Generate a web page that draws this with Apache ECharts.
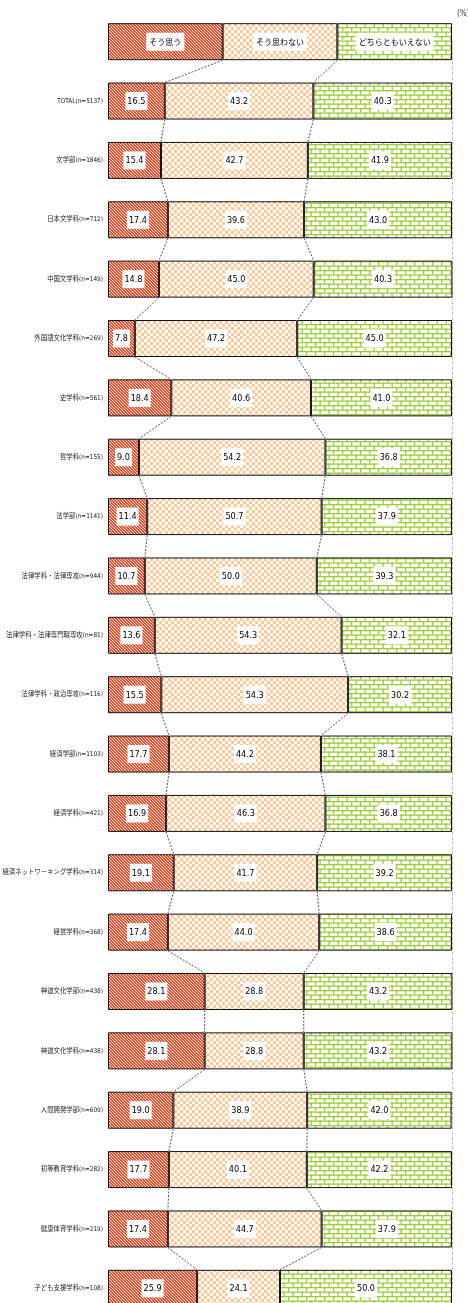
<!DOCTYPE html>
<html><head><meta charset="utf-8">
<script src="https://cdn.jsdelivr.net/npm/echarts@6/dist/echarts.min.js"></script>
<style>html,body{margin:0;padding:0;background:#fff}#c{width:468px;height:1303px}</style>
</head><body><div id="c"></div>
<script>
const categories = ['TOTAL(n=5137)', '文学部(n=1846)', '日本文学科(n=712)', '中国文学科(n=149)', '外国語文化学科(n=269)', '史学科(n=561)', '哲学科(n=155)', '法学部(n=1141)', '法律学科・法律専攻(n=944)', '法律学科・法律専門職専攻(n=81)', '法律学科・政治専攻(n=116)', '経済学部(n=1103)', '経済学科(n=421)', '経済ネットワーキング学科(n=314)', '経営学科(n=368)', '神道文化学部(n=438)', '神道文化学科(n=438)', '人間開発学部(n=609)', '初等教育学科(n=282)', '健康体育学科(n=219)', '子ども支援学科(n=108)'];
const seriesNames = ['そう思う', 'そう思わない', 'どちらともいえない'];
const agree = [16.5, 15.4, 17.4, 14.8, 7.8, 18.4, 9.0, 11.4, 10.7, 13.6, 15.5, 17.7, 16.9, 19.1, 17.4, 28.1, 28.1, 19.0, 17.7, 17.4, 25.9];
const disagree = [43.2, 42.7, 39.6, 45.0, 47.2, 40.6, 54.2, 50.7, 50.0, 54.3, 54.3, 44.2, 46.3, 41.7, 44.0, 28.8, 28.8, 38.9, 40.1, 44.7, 24.1];
const neutral = [40.3, 41.9, 43.0, 40.3, 45.0, 41.0, 36.8, 37.9, 39.3, 32.1, 30.2, 38.1, 36.8, 39.2, 38.6, 43.2, 43.2, 42.0, 42.2, 37.9, 50.0];
const legendShares = [100 / 3, 100 / 3, 100 / 3];

const rows = [''].concat(categories);
const seriesValues = [agree, disagree, neutral].map((arr, k) => [legendShares[k]].concat(arr));
const cumA = seriesValues[0];
const cumB = seriesValues[0].map((v, i) => v + seriesValues[1][i]);

function mk(w, h, draw) { const c = document.createElement('canvas'); c.width = w; c.height = h; draw(c.getContext('2d')); return c; }
const stripeImg = mk(3, 3, g => { g.fillStyle = '#FF431C'; g.fillRect(0, 0, 3, 3); g.fillStyle = '#FFFFFF'; for (let y = 0; y < 3; y++) g.fillRect(y, y, 1, 1); });
const checkImg = mk(6, 6, g => { g.fillStyle = '#FFFFFF'; g.fillRect(0, 0, 6, 6); g.fillStyle = '#FFC894'; g.fillRect(0, 0, 3, 3); g.fillRect(3, 3, 3, 3); });
const brickImg = mk(9, 9, g => {
  g.fillStyle = '#FFFFFF'; g.fillRect(0, 0, 9, 9);
  g.fillStyle = '#9ACD32';
  g.fillRect(0, 0, 9, 1.3); g.fillRect(0, 4.5, 9, 1.3);
  g.fillRect(0, 0, 1.3, 4.5); g.fillRect(4.5, 4.5, 1.3, 4.5);
});
const fills = [stripeImg, checkImg, brickImg];

const BAR_H = 37;
const FONT = "'Liberation Sans Narrow', 'DejaVu Sans Condensed', 'Arial Narrow', 'Liberation Sans', 'Noto Sans CJK JP', sans-serif";

const chart = echarts.init(document.getElementById('c'), null, { renderer: 'canvas' });
const barSeries = seriesNames.map((name, k) => ({
  name: name,
  type: 'bar',
  stack: 'all',
  barWidth: BAR_H,
  data: seriesValues[k],
  itemStyle: { color: { image: fills[k], repeat: 'repeat' }, borderColor: '#111', borderWidth: 1 },
  label: {
    show: true, position: 'inside',
    formatter: p => p.dataIndex === 0 ? '{lg|' + p.seriesName + '}' : p.value.toFixed(1),
    color: '#000', fontSize: 9, fontFamily: FONT,
    backgroundColor: '#fff', padding: [5, 2, 4, 2],
    rich: { lg: { fontSize: 8, fontFamily: FONT, color: '#000', padding: [1, 1, 0, 1] } }
  },
  emphasis: { disabled: true },
  z: 2
}));
barSeries[2].markLine = {
  silent: true, symbol: 'none', label: { show: false },
  lineStyle: { color: '#b8b8b8', type: [3, 2], width: 1 },
  data: [[{ coord: [100, 0] }, { coord: [100, rows.length - 1] }]],
  z: 1
};

const connectors = {
  type: 'custom',
  silent: true,
  z: 5,
  data: rows.slice(0, -1).map((_, i) => [0, i]),
  encode: { x: 0, y: 1 },
  renderItem: (params, api) => {
    const i = params.dataIndex;
    const h = BAR_H / 2;
    const children = [cumA, cumB].map(cum => {
      const p1 = api.coord([cum[i], i]);
      const p2 = api.coord([cum[i + 1], i + 1]);
      return { type: 'line', shape: { x1: p1[0], y1: p1[1] + h, x2: p2[0], y2: p2[1] - h },
        style: { stroke: '#222', lineWidth: 0.8, lineDash: [2, 1.5] } };
    });
    return { type: 'group', children: children };
  }
};

chart.setOption({
  animation: false,
  backgroundColor: '#fff',
  grid: { left: 108, right: 16, top: 12, height: 1306, containLabel: false, outerBoundsMode: 'none' },
  xAxis: { type: 'value', min: 0, max: 100, show: false },
  yAxis: {
    type: 'category', data: rows, inverse: true,
    axisLine: { show: false }, axisTick: { show: false }, splitLine: { show: false },
    axisLabel: { color: '#222', fontSize: 6.4, fontFamily: FONT, margin: 5, interval: 0 }
  },
  graphic: [{ type: 'text', left: 457, top: 10, style: { text: '(%)', fontSize: 8, fontFamily: FONT, fill: '#333' } }],
  series: barSeries.concat([connectors])
});
</script>
</body></html>
